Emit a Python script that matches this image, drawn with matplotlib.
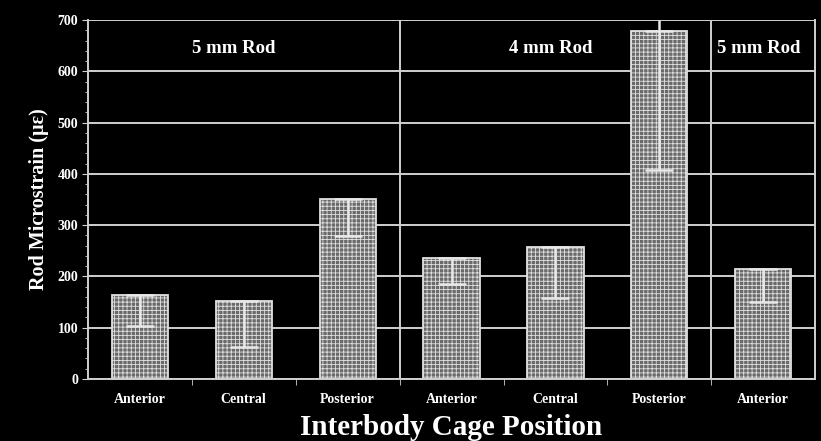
import numpy as np
import matplotlib
matplotlib.use("Agg")
import matplotlib.pyplot as plt
from matplotlib.ticker import MultipleLocator

positions = ["Anterior", "Central", "Posterior", "Anterior", "Central", "Posterior", "Anterior"]
microstrain = [163, 152, 351, 236, 257, 678, 214]
err = [60, 90, 72, 51, 99, 270, 64]
groups = ["5 mm Rod", "4 mm Rod", "5 mm Rod"]
group_centers = [0.9, 3.95, 5.96]

plt.rcParams['font.family'] = ['Liberation Serif', 'DejaVu Serif']
plt.rcParams['hatch.color'] = '#959595'
plt.rcParams['hatch.linewidth'] = 0.6

fig = plt.figure(figsize=(8.21, 4.41), dpi=100, facecolor='black')
ax = fig.add_axes([0.107, 0.1406, 0.886, 0.814], facecolor='black')

x = np.arange(len(positions))
ax.set_axisbelow(True)
ax.yaxis.grid(True, color='#d0d0d0', linewidth=1.4)
ax.bar(x, microstrain, width=0.54, color='#6a6a6a', edgecolor='#e0e0e0',
       linewidth=1.3, hatch='++++', zorder=2)
ax.errorbar(x, microstrain, yerr=[err, [0] * len(err)], fmt='none', ecolor='#e8e8e8',
            elinewidth=1.8, capsize=10, capthick=1.8, zorder=3)
# Posterior (4 mm) upper error runs off the top of the axis
ax.vlines(5, microstrain[5], 700, color='#e8e8e8', linewidth=1.8, zorder=3)

for xs in [2.5, 5.5]:
    ax.axvline(xs, color='#d0d0d0', linewidth=1.4, zorder=1)

for name, gx in zip(groups, group_centers):
    ax.text(gx, 645, name, color='white', fontsize=13.5, fontweight='bold',
            ha='center', va='center')

ax.set_xlim(-0.5, 6.5)
ax.set_ylim(0, 700)
ax.set_xticks(x)
ax.set_xticklabels(positions, fontsize=10, fontweight='bold', color='white')
ax.set_xticks(np.arange(0.5, 6, 1), minor=True)
ax.tick_params(axis='x', which='major', length=0, pad=10)
ax.tick_params(axis='x', which='minor', length=4, color='#d0d0d0', direction='out')
ax.yaxis.set_major_locator(MultipleLocator(100))
ax.yaxis.set_minor_locator(MultipleLocator(20))
ax.tick_params(axis='y', which='major', length=4, color='#d0d0d0', labelsize=10,
               labelcolor='white', direction='out', pad=3)
ax.tick_params(axis='y', which='minor', length=2, color='#d0d0d0', direction='out')
for lbl in ax.get_yticklabels():
    lbl.set_fontweight('bold')

for side in ['left', 'bottom', 'right']:
    ax.spines[side].set_color('#d0d0d0')
    ax.spines[side].set_linewidth(1.4)
ax.spines['top'].set_visible(False)

ax.set_ylabel('Rod Microstrain (µε)', fontsize=14.5, fontweight='bold', color='white', labelpad=6)
ax.set_xlabel('Interbody Cage Position', fontsize=21, fontweight='bold', color='white', labelpad=6)

fig.savefig('out.png', dpi=100, facecolor='black')
